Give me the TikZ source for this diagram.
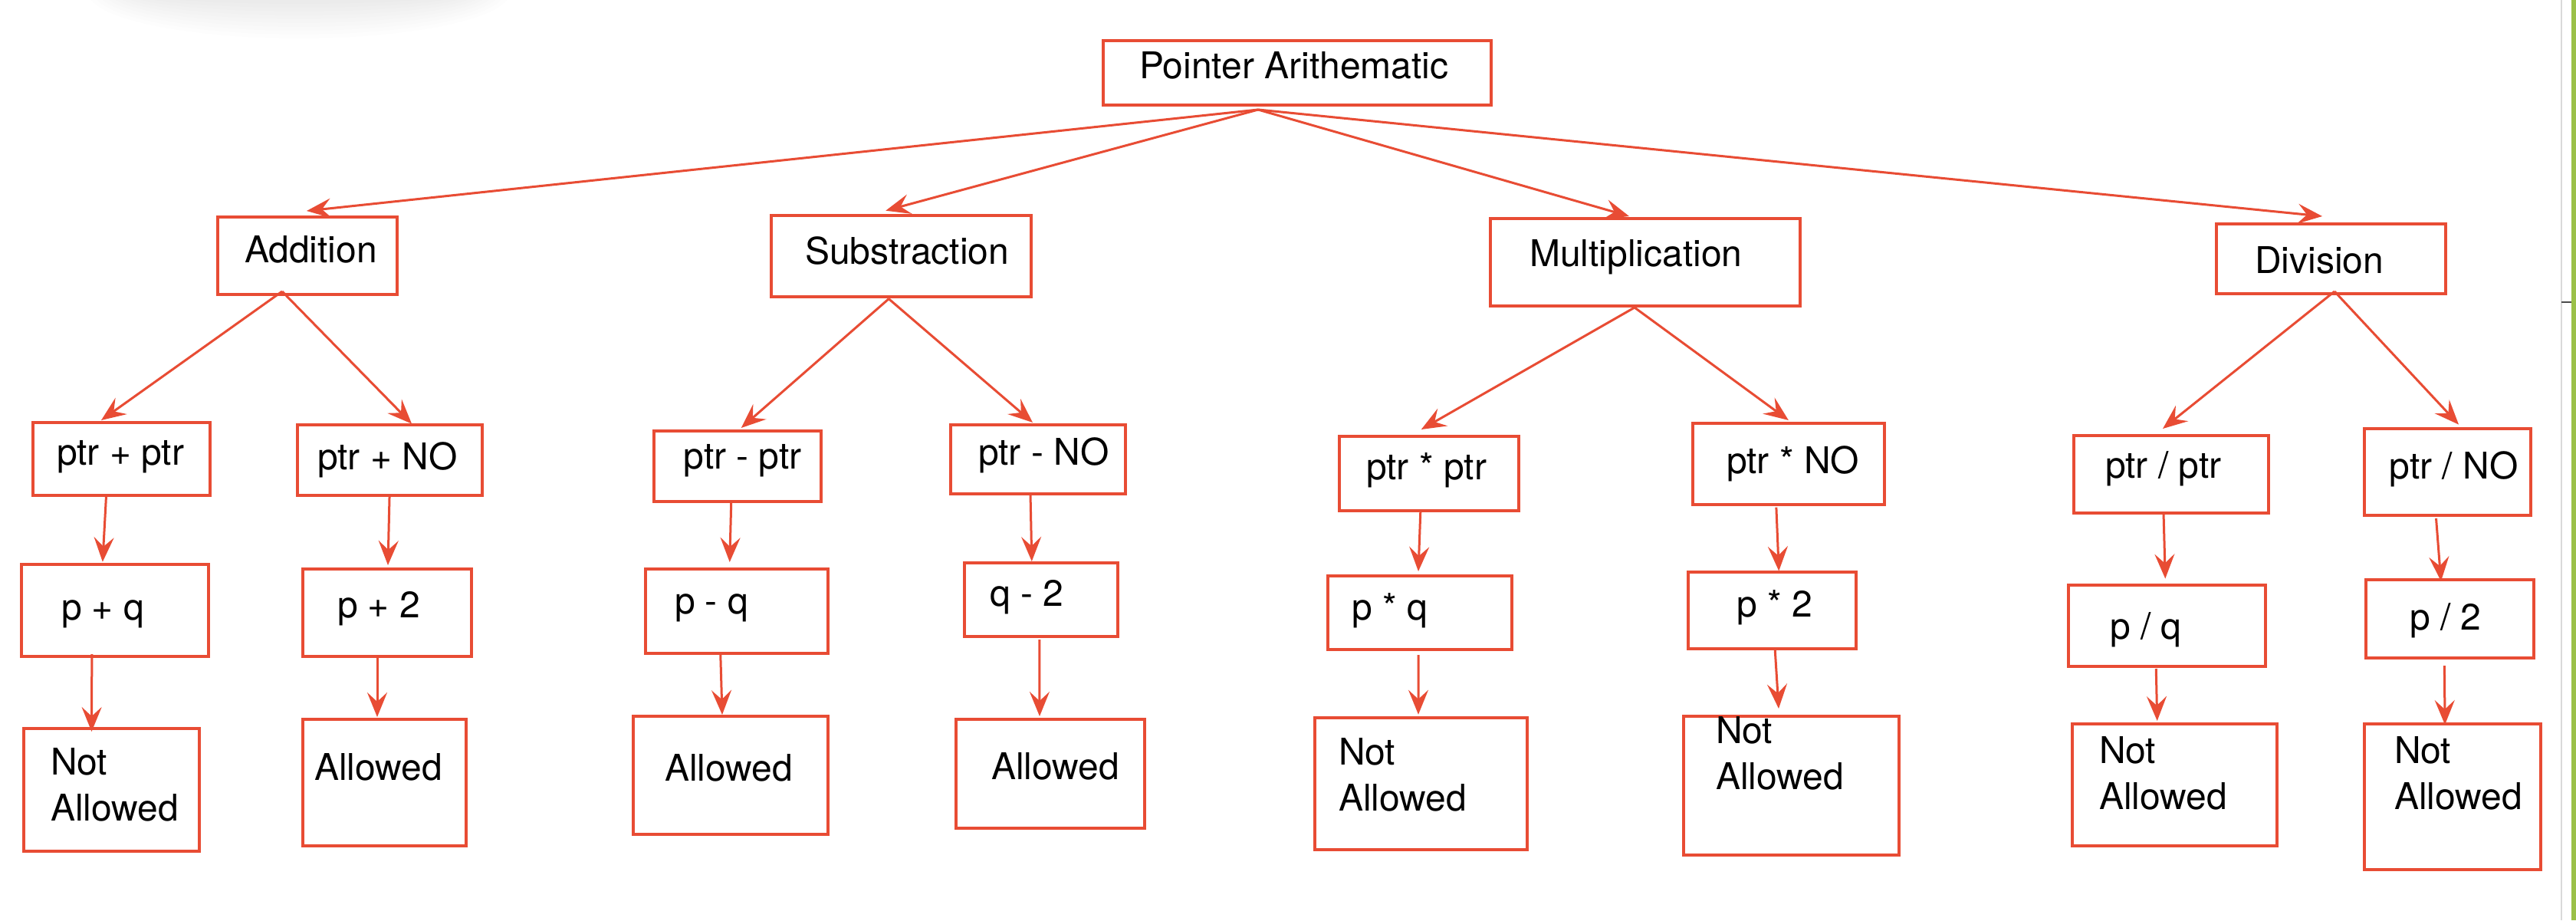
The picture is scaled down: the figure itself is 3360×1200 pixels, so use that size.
\documentclass[tikz,border=0pt]{standalone}
\usepackage{fontspec}
\setmainfont{TeX Gyre Heros}
\usetikzlibrary{arrows.meta,fit}
\definecolor{myred}{RGB}{232,76,52}
\definecolor{stripgreen}{RGB}{155,192,72}
\newcommand\bx[5]{\node[box, fit={(#2,#3) (#4,#5)}] (#1) {};}
\newcommand\twol[2]{\begin{tabular}[t]{@{}l@{}}#1\\#2\end{tabular}}
\begin{document}
\begin{tikzpicture}[x=0.25pt,y=-0.25pt,
  box/.style={draw=myred, line width=1.0pt, inner sep=0pt, outer sep=0pt},
  lbl/.style={inner sep=0pt, outer sep=0pt, anchor=base west, font=\fontsize{12}{15}\selectfont, text=black},
  arr/.style={draw=myred, line width=0.75pt, -{Stealth[length=8pt,width=6.5pt,inset=3pt]}}]
\useasboundingbox (0,0) rectangle (3360,1200);
\fill[white] (0,0) rectangle (3360,1200);
% soft shadow at top left
\foreach \i in {0,...,9} {
  \fill[black, opacity=0.006] (390,-10) ellipse [x radius={(275-\i*7)*0.25pt}, y radius={(60-\i*5)*0.25pt}];
}
% right edge
\draw[black!15, line width=0.4pt] (3341,0) -- (3341,1200);
\draw[black!70, line width=0.6pt] (3341,394) -- (3354,394);
\fill[stripgreen] (3354,0) rectangle (3360,1200);

% boxes
\bx{top}{1439}{53}{1945}{137}
\bx{add}{284}{283}{518}{384}
\bx{sub}{1005.5}{280.7}{1345}{386.7}
\bx{mul}{1944}{285}{2348}{399}
\bx{div}{2891}{292}{3190}{383}

\bx{a1}{43}{551}{274}{646}
\bx{a2}{387.5}{553.6}{628.6}{646}
\bx{s1}{853}{561.6}{1070.5}{654}
\bx{s2}{1240}{553.6}{1468}{644}
\bx{m1}{1747}{569}{1980.6}{666}
\bx{m2}{2207.7}{552}{2458}{657.6}
\bx{d1}{2705}{568}{2959}{669}
\bx{d2}{3084}{559}{3301}{672}

\bx{p1}{27.7}{735.7}{272}{856}
\bx{p2}{395}{742}{615}{856}
\bx{p3}{841.5}{742}{1080}{852}
\bx{p4}{1257.6}{733.5}{1458}{830}
\bx{p5}{1731.6}{751}{1972.4}{847}
\bx{p6}{2201.5}{745.5}{2421}{846}
\bx{p7}{2697.5}{763}{2955}{869}
\bx{p8}{3085.7}{756}{3305}{858}

\bx{r1}{31}{950}{260}{1110}
\bx{r2}{395}{937.5}{608}{1102.7}
\bx{r3}{826}{934}{1080}{1088}
\bx{r4}{1247}{938}{1493}{1080}
\bx{r5}{1715}{935.7}{1992}{1108}
\bx{r6}{2196}{934}{2477}{1115}
\bx{r7}{2703.4}{944}{2970}{1103}
\bx{r8}{3084}{944}{3314}{1134}

% texts
\node[lbl] (ttop) at (1486,102) {Pointer Arithematic};
\node[lbl] (tadd) at (319,342) {Addition};
\node[lbl] (tsub) at (1050,344) {Substraction};
\node[lbl] (tmul) at (1995,347) {Multiplication};
\node[lbl] (tdiv) at (2941,356) {Division};

\node[lbl] (ta1) at (74,606) {ptr + ptr};
\node[lbl] (ta2) at (414,612) {ptr + NO};
\node[lbl] (ts1) at (891.5,611) {ptr - ptr};
\node[lbl] (ts2) at (1276,606) {ptr - NO};
\node[lbl] (tm1) at (1782,625) {ptr * ptr};
\node[lbl] (tm2) at (2252,617) {ptr * NO};
\node[lbl] (td1) at (2746,623) {ptr / ptr};
\node[lbl] (td2) at (3116.5,624) {ptr / NO};

\node[lbl] (tp1) at (80,808) {p + q};
\node[lbl] (tp2) at (440,805) {p + 2};
\node[lbl] (tp3) at (880,800) {p - q};
\node[lbl] (tp4) at (1291,790) {q - 2};
\node[lbl] (tp5) at (1763,808) {p * q};
\node[lbl] (tp6) at (2265,804) {p * 2};
\node[lbl] (tp7) at (2752,833) {p / q};
\node[lbl] (tp8) at (3143,821) {p / 2};

\node[lbl] (tr1) at (66,1010) {\twol{Not}{Allowed}};
\node[lbl] (tr2) at (410,1017) {Allowed};
\node[lbl] (tr3) at (867,1018) {Allowed};
\node[lbl] (tr4) at (1293,1016) {Allowed};
\node[lbl] (tr5) at (1746,997) {\twol{Not}{Allowed}};
\node[lbl] (tr6) at (2238,969) {\twol{Not}{Allowed}};
\node[lbl] (tr7) at (2738,995.5) {\twol{Not}{Allowed}};
\node[lbl] (tr8) at (3123,995.5) {\twol{Not}{Allowed}};

% connectors: root to level 1
\draw[arr] ([shift={(-51,6)}]top.south) -- ([shift={(-1,-8)}]add.north);
\draw[arr] ([shift={(-51,6)}]top.south) -- ([shift={(-20,-6)}]sub.north);
\draw[arr] ([shift={(-51,6)}]top.south) -- ([shift={(-21,-3)}]mul.north);
\draw[arr] ([shift={(-51,6)}]top.south) -- ([shift={(-11.5,-10)}]div.north);
% level 1 to level 2
\draw[arr] ([shift={(-33,-4)}]add.south) -- ([shift={(-26.5,-3)}]a1.north);
\draw[arr] ([shift={(-33,-4)}]add.south) -- ([shift={(29,-1)}]a2.north);
\draw[arr] ([shift={(-16,3)}]sub.south) -- ([shift={(5,-3.6)}]s1.north);
\draw[arr] ([shift={(-16,3)}]sub.south) -- ([shift={(-7,-2.6)}]s2.north);
\draw[arr] ([shift={(-14,2)}]mul.south) -- ([shift={(-10,-9)}]m1.north);
\draw[arr] ([shift={(-14,2)}]mul.south) -- ([shift={(0,-4)}]m2.north);
\draw[arr] ([shift={(4.5,-3)}]div.south) -- ([shift={(-11,-9)}]d1.north);
\draw[arr] ([shift={(4.5,-3)}]div.south) -- ([shift={(14.5,-5.4)}]d2.north);
% level 2 to level 3
\draw[arr] ([shift={(-20,1)}]a1.south) -- ([shift={(-16,-3)}]p1.north);
\draw[arr] ([shift={(0,1)}]a2.south) -- ([shift={(1,-5)}]p2.north);
\draw[arr] ([shift={(-8,1)}]s1.south) -- ([shift={(-9,-9)}]p3.north);
\draw[arr] ([shift={(-10,0)}]s2.south) -- ([shift={(-12,-1.5)}]p4.north);
\draw[arr] ([shift={(-11,1)}]m1.south) -- ([shift={(-2,-6)}]p5.north);
\draw[arr] ([shift={(-16,4)}]m2.south) -- ([shift={(9,-1)}]p6.north);
\draw[arr] ([shift={(-10,0)}]d1.south) -- ([shift={(-2,-8.5)}]p7.north);
\draw[arr] ([shift={(-15,4)}]d2.south) -- ([shift={(-11.5,2)}]p8.north);
% level 3 to level 4
\draw[arr] ([shift={(-30,-3)}]p1.south) -- ([shift={(-26,4)}]r1.north);
\draw[arr] ([shift={(-13,1)}]p2.south) -- ([shift={(-9.5,-2.5)}]r2.north);
\draw[arr] ([shift={(-21,1)}]p3.south) -- ([shift={(-11,-2)}]r3.north);
\draw[arr] ([shift={(-2,4)}]p4.south) -- ([shift={(-14,-4)}]r4.north);
\draw[arr] ([shift={(-2,7)}]p5.south) -- ([shift={(-3.5,-4)}]r5.north);
\draw[arr] ([shift={(4,2)}]p6.south) -- ([shift={(-16.5,-10)}]r6.north);
\draw[arr] ([shift={(-14,3)}]p7.south) -- ([shift={(-23,-4)}]r7.north);
\draw[arr] ([shift={(-7,10)}]p8.south) -- ([shift={(-10,1)}]r8.north);
\end{tikzpicture}
\end{document}
